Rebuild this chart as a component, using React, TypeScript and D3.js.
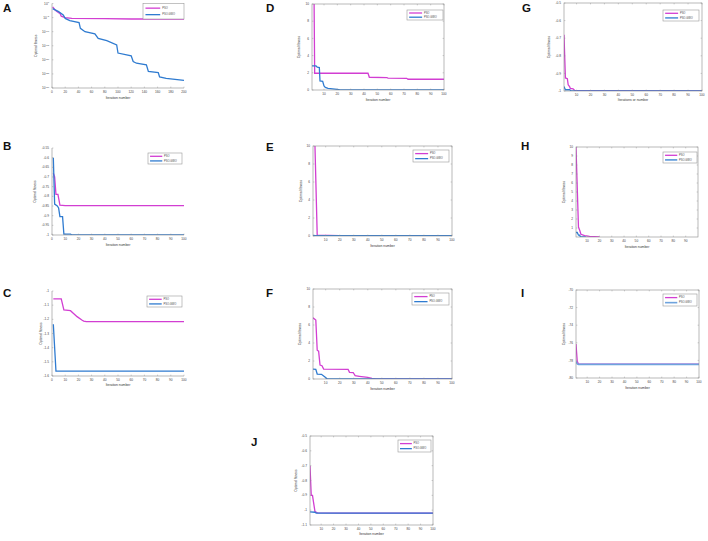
import React from "react";
import * as d3 from "d3";

const MAG = "#d23ed2";
const BLUE = "#2f7bd0";
const LBLUE = "#6ea3dd";

// ---------- data (iteration, fitness) ----------
const aPSO: [number, number][] = [[1, 6.3e-2], [5, 4e-3], [10, 5e-4], [12, 3.2e-4], [14, 3.2e-5], [20, 1e-5], [30, 5e-6], [80, 4e-6], [120, 3.2e-6], [200, 3.2e-6]];
const aGWO: [number, number][] = [[1, 1.6e-2], [10, 1.3e-3], [17, 8e-5], [20, 5e-6], [27, 8e-7], [41, 1.6e-7], [43, 1.6e-9], [50, 1e-10], [65, 1.6e-11], [70, 4e-13], [83, 6.3e-14], [98, 2e-15], [100, 2.5e-18], [120, 2.5e-19], [123, 2.5e-21], [128, 6.3e-22], [143, 1.6e-22], [146, 8e-25], [161, 3.2e-25], [163, 8e-27], [173, 2.5e-27], [200, 5e-28]];

const bPSO: [number, number][] = [[1, -0.68], [2, -0.70], [3, -0.79], [4.5, -0.79], [6, -0.845], [10, -0.848], [100, -0.848]];
const bGWO: [number, number][] = [[1, -0.60], [2, -0.84], [4, -0.85], [5, -0.86], [6, -0.905], [8, -0.905], [9, -0.995], [14, -0.995], [15, -1.0], [100, -1.0]];

const cPSO: [number, number][] = [[1, -1.056], [7, -1.056], [9, -1.134], [14, -1.139], [19, -1.181], [22.6, -1.205], [24, -1.212], [26, -1.216], [100, -1.216]];
const cGWO: [number, number][] = [[1, -1.235], [3, -1.565], [100, -1.565]];

const dPSO: [number, number][] = [[1, 40], [3, 1.95], [43, 1.95], [44, 1.48], [57, 1.45], [58, 1.38], [72, 1.36], [73, 1.25], [100, 1.25]];
const dGWO: [number, number][] = [[1, 2.8], [4, 2.8], [5, 2.65], [6.5, 2.6], [7, 1.05], [9, 1.0], [10, 0.47], [11, 0.31], [13, 0.2], [20, 0.08], [22, 0.02], [100, 0.02]];

const ePSO: [number, number][] = [[1, 18.7], [4, 0.1], [20, 0.05], [100, 0.02]];
const eGWO: [number, number][] = [[1, 0.06], [3, 0.03], [100, 0.03]];

const fPSO: [number, number][] = [[1, 6.8], [3, 6.55], [4, 3.2], [5, 3.1], [6, 1.55], [7.4, 1.48], [8.6, 1.1], [26, 1.07], [27, 0.74], [29.6, 0.72], [31, 0.37], [34, 0.3], [40, 0.18], [43, 0.07], [46, 0.02], [100, 0.02]];
const fGWO: [number, number][] = [[1, 1.1], [3, 1.07], [4, 0.55], [7, 0.52], [9.3, 0.26], [11, 0.02], [100, 0.02]];

const gPSO: [number, number][] = [[1, -0.68], [2, -0.926], [3.4, -0.93], [4, -0.965], [5, -0.975], [5.5, -0.985], [7.5, -0.988], [8.7, -0.997], [20, -0.998], [100, -1.0]];
const gGWO: [number, number][] = [[1, -0.975], [2, -0.993], [5, -0.993], [6, -0.999], [100, -1.0]];

const hPSO: [number, number][] = [[1, 10], [3, 1.1], [4, 0.75], [5, 0.3], [8, 0.15], [12, 0.08], [20, 0.02]];
const hGWO: [number, number][] = [[1, 0.5], [2, 0.5], [3, 0.2], [4, 0.2], [4.5, 0.02], [9, 0.02]];

const iPSO: [number, number][] = [[1, -76.15], [2, -78.1], [3, -78.42], [100, -78.42]];
const iGWO: [number, number][] = [[1, -78.1], [2, -78.4], [3, -78.45], [100, -78.45]];

const jPSO: [number, number][] = [[1, -0.70], [2, -0.9], [3, -0.9], [5, -1.01], [7, -1.018], [25, -1.02], [100, -1.02]];
const jGWO: [number, number][] = [[1, -1.012], [5, -1.014], [6, -1.02], [100, -1.02]];

// ---------- tick labels ----------
const ticks0to200 = [0, 20, 40, 60, 80, 100, 120, 140, 160, 180, 200];
const ticks0to100 = [0, 10, 20, 30, 40, 50, 60, 70, 80, 90, 100];
const ticks10to100 = [10, 20, 30, 40, 50, 60, 70, 80, 90, 100];
const ticks10to90 = [10, 20, 30, 40, 50, 60, 70, 80, 90];
const aYTicks = [1e0, 1e-5, 1e-10, 1e-15, 1e-20, 1e-25, 1e-30];
const bYTicks = [-0.55, -0.6, -0.65, -0.7, -0.75, -0.8, -0.85, -0.9, -0.95, -1];
const cYTicks = [-1, -1.1, -1.2, -1.3, -1.4, -1.5, -1.6];
const dYTicks = [0, 2, 4, 6, 8, 10];
const fYTicks = [0, 2, 4, 6, 8, 10];
const gYTicks = [-0.5, -0.6, -0.7, -0.8, -0.9, -1];
const hYTicks = [1, 2, 3, 4, 5, 6, 7, 8, 9, 10];
const iYTicks = [-70, -72, -74, -76, -78, -80];
const jYTicks = [-0.5, -0.6, -0.7, -0.8, -0.9, -1, -1.1];

const SERIES_NAMES = ["PSO", "PSO-GWO"];

type Panel = {
  letter: string; lx: number; ly: number;
  x0: number; x1: number; y0: number; y1: number;
  xDomain: [number, number]; xTicks: number[];
  yDomain: [number, number]; yTicks: number[]; yLog?: boolean;
  box: boolean;
  legend: [number, number, number, number];
  xTitle: string; xTitleY: number; yTitleX: number;
  pso: [number, number][]; gwo: [number, number][];
  gwoColor?: string; gwoWidth?: number;
};

const panels: Panel[] = [
  { letter: "A", lx: 3, ly: 12, x0: 52, x1: 184, y0: 3.5, y1: 88, xDomain: [0, 200], xTicks: ticks0to200, yDomain: [1e-30, 1], yTicks: aYTicks, yLog: true, box: false, legend: [143, 3.5, 184, 19], xTitle: "Iteration number", xTitleY: 99, yTitleX: 37, pso: aPSO, gwo: aGWO },
  { letter: "B", lx: 3, ly: 150, x0: 52, x1: 184, y0: 148, y1: 235, xDomain: [0, 100], xTicks: ticks0to100, yDomain: [-1, -0.55], yTicks: bYTicks, box: false, legend: [148, 153, 182, 164], xTitle: "Iteration number", xTitleY: 246, yTitleX: 36, pso: bPSO, gwo: bGWO },
  { letter: "C", lx: 3, ly: 297, x0: 52, x1: 184, y0: 291, y1: 376, xDomain: [0, 100], xTicks: ticks0to100, yDomain: [-1.6, -1], yTicks: cYTicks, box: false, legend: [147, 296, 182, 307], xTitle: "Iteration number", xTitleY: 386, yTitleX: 42, pso: cPSO, gwo: cGWO },
  { letter: "D", lx: 266, ly: 12, x0: 312, x1: 444, y0: 4, y1: 90, xDomain: [1, 100], xTicks: ticks10to100, yDomain: [0, 10], yTicks: dYTicks, box: true, legend: [407, 10, 443, 20], xTitle: "Iteration number", xTitleY: 101, yTitleX: 300, pso: dPSO, gwo: dGWO },
  { letter: "E", lx: 266, ly: 151, x0: 313, x1: 452, y0: 146, y1: 236, xDomain: [1, 100], xTicks: ticks10to100, yDomain: [0, 10], yTicks: dYTicks, box: true, legend: [413, 150, 449, 162], xTitle: "Iteration number", xTitleY: 247, yTitleX: 302, pso: ePSO, gwo: eGWO },
  { letter: "F", lx: 266, ly: 297, x0: 313, x1: 452, y0: 289, y1: 379, xDomain: [1, 100], xTicks: ticks10to100, yDomain: [0, 10], yTicks: fYTicks, box: true, legend: [412, 293, 449, 305], xTitle: "Iteration number", xTitleY: 390, yTitleX: 301, pso: fPSO, gwo: fGWO },
  { letter: "G", lx: 522, ly: 12, x0: 564, x1: 702, y0: 3, y1: 91, xDomain: [1, 100], xTicks: ticks10to100, yDomain: [-1, -0.5], yTicks: gYTicks, box: true, legend: [663, 10, 699, 21], xTitle: "Iterations or number", xTitleY: 101, yTitleX: 550, pso: gPSO, gwo: gGWO },
  { letter: "H", lx: 521, ly: 150, x0: 576, x1: 698, y0: 147, y1: 237, xDomain: [1, 100], xTicks: ticks10to90, yDomain: [0, 10], yTicks: hYTicks, box: true, legend: [663, 152, 697, 163], xTitle: "Iteration number", xTitleY: 248, yTitleX: 565, pso: hPSO, gwo: hGWO },
  { letter: "I", lx: 521, ly: 297, x0: 576, x1: 699, y0: 290, y1: 378, xDomain: [1, 100], xTicks: ticks10to100, yDomain: [-80, -70], yTicks: iYTicks, box: true, legend: [663, 294, 697, 306], xTitle: "Iteration number", xTitleY: 389, yTitleX: 565, pso: iPSO, gwo: iGWO, gwoColor: LBLUE, gwoWidth: 1.6 },
  { letter: "J", lx: 251, ly: 446, x0: 310, x1: 433, y0: 436, y1: 525, xDomain: [1, 100], xTicks: ticks10to100, yDomain: [-1.1, -0.5], yTicks: jYTicks, box: true, legend: [398, 440, 431, 452], xTitle: "Iteration number", xTitleY: 535, yTitleX: 297, pso: jPSO, gwo: jGWO },
];

const FONT = "Liberation Sans, Arial, sans-serif";
const TICK_FS = 3.2;
const LW = 1.3;

function PanelView({ p, idx }: { p: Panel; idx: number }) {
  const x = d3.scaleLinear().domain(p.xDomain).range([p.x0, p.x1]);
  const y = p.yLog
    ? d3.scaleLog().domain(p.yDomain).range([p.y1, p.y0])
    : d3.scaleLinear().domain(p.yDomain).range([p.y1, p.y0]);
  const line = d3.line<[number, number]>().x((d) => x(d[0])).y((d) => y(d[1]));
  const clipId = `clip${idx}`;
  const axisCol = "#8a8a8a";
  const tl = 1.4;
  const [lgx0, lgy0, lgx1, lgy1] = p.legend;
  const lh = lgy1 - lgy0;
  const lw = lgx1 - lgx0;
  return (
    <g>
      <defs>
        <clipPath id={clipId}>
          <rect x={p.x0} y={p.y0} width={p.x1 - p.x0} height={p.y1 - p.y0} />
        </clipPath>
      </defs>
      <text x={p.lx} y={p.ly} fontFamily={FONT} fontWeight="bold" fontSize={11.5} fill="#111">{p.letter}</text>
      <g clipPath={`url(#${clipId})`}>
        <path d={line(p.pso) || ""} fill="none" stroke={MAG} strokeWidth={LW} />
        <path d={line(p.gwo) || ""} fill="none" stroke={p.gwoColor || BLUE} strokeWidth={p.gwoWidth || LW} />
      </g>
      {p.box ? (
        <rect x={p.x0} y={p.y0} width={p.x1 - p.x0} height={p.y1 - p.y0} fill="none" stroke={axisCol} strokeWidth={0.6} />
      ) : (
        <g>
          <line x1={p.x0} x2={p.x0} y1={p.y0} y2={p.y1} stroke={axisCol} strokeWidth={0.6} />
          <line x1={p.x0} x2={p.x1} y1={p.y1} y2={p.y1} stroke={axisCol} strokeWidth={0.6} />
        </g>
      )}
      {p.xTicks.map((t) => (
        <g key={"x" + t}>
          <line x1={x(t)} x2={x(t)} y1={p.y1} y2={p.y1 - tl} stroke={axisCol} strokeWidth={0.4} />
          {p.box && <line x1={x(t)} x2={x(t)} y1={p.y0} y2={p.y0 + tl} stroke={axisCol} strokeWidth={0.4} />}
          <text x={x(t)} y={p.y1 + 4.5} textAnchor="middle" fontFamily={FONT} fontSize={TICK_FS} fill="#444">{t}</text>
        </g>
      ))}
      {p.yTicks.map((t) => (
        <g key={"y" + t}>
          <line x1={p.x0} x2={p.x0 + tl} y1={y(t)} y2={y(t)} stroke={axisCol} strokeWidth={0.4} />
          {p.box && <line x1={p.x1} x2={p.x1 - tl} y1={y(t)} y2={y(t)} stroke={axisCol} strokeWidth={0.4} />}
          {p.yLog ? (
            <text x={p.x0 - 3} y={y(t) + 1.2} textAnchor="end" fontFamily={FONT} fontSize={TICK_FS} fill="#444">
              10<tspan dy={-1.3} fontSize={2.4}>{Math.round(Math.log10(t))}</tspan>
            </text>
          ) : (
            <text x={p.x0 - 3} y={y(t) + 1.1} textAnchor="end" fontFamily={FONT} fontSize={TICK_FS} fill="#444">{String(t)}</text>
          )}
        </g>
      ))}
      <text x={(p.x0 + p.x1) / 2} y={p.xTitleY} textAnchor="middle" fontFamily={FONT} fontSize={3.4} fill="#333">{p.xTitle}</text>
      <text transform={`translate(${p.yTitleX},${(p.y0 + p.y1) / 2}) rotate(-90)`} textAnchor="middle" fontFamily={FONT} fontSize={3.4} fill="#333">Optimal fitness</text>
      <rect x={lgx0} y={lgy0} width={lw} height={lh} fill="#fff" stroke="#999" strokeWidth={0.6} />
      {SERIES_NAMES.map((name, i) => {
        const ly = lgy0 + lh * (i === 0 ? 0.3 : 0.72);
        const col = i === 0 ? MAG : (p.gwoColor || BLUE);
        return (
          <g key={name}>
            <line x1={lgx0 + lw * 0.06} x2={lgx0 + lw * 0.42} y1={ly} y2={ly} stroke={col} strokeWidth={i === 1 && p.gwoWidth ? p.gwoWidth : LW} />
            <text x={lgx0 + lw * 0.47} y={ly + 0.6} fontFamily={FONT} fontSize={2.6} fill="#444">{name}</text>
          </g>
        );
      })}
    </g>
  );
}

export default function App() {
  return (
    <svg width={708} height={541} style={{ position: "absolute", left: 0, top: 0, background: "#fff" }}>
      <rect x={0} y={0} width={708} height={541} fill="#fff" />
      {panels.map((p, i) => (
        <PanelView key={p.letter} p={p} idx={i} />
      ))}
    </svg>
  );
}
